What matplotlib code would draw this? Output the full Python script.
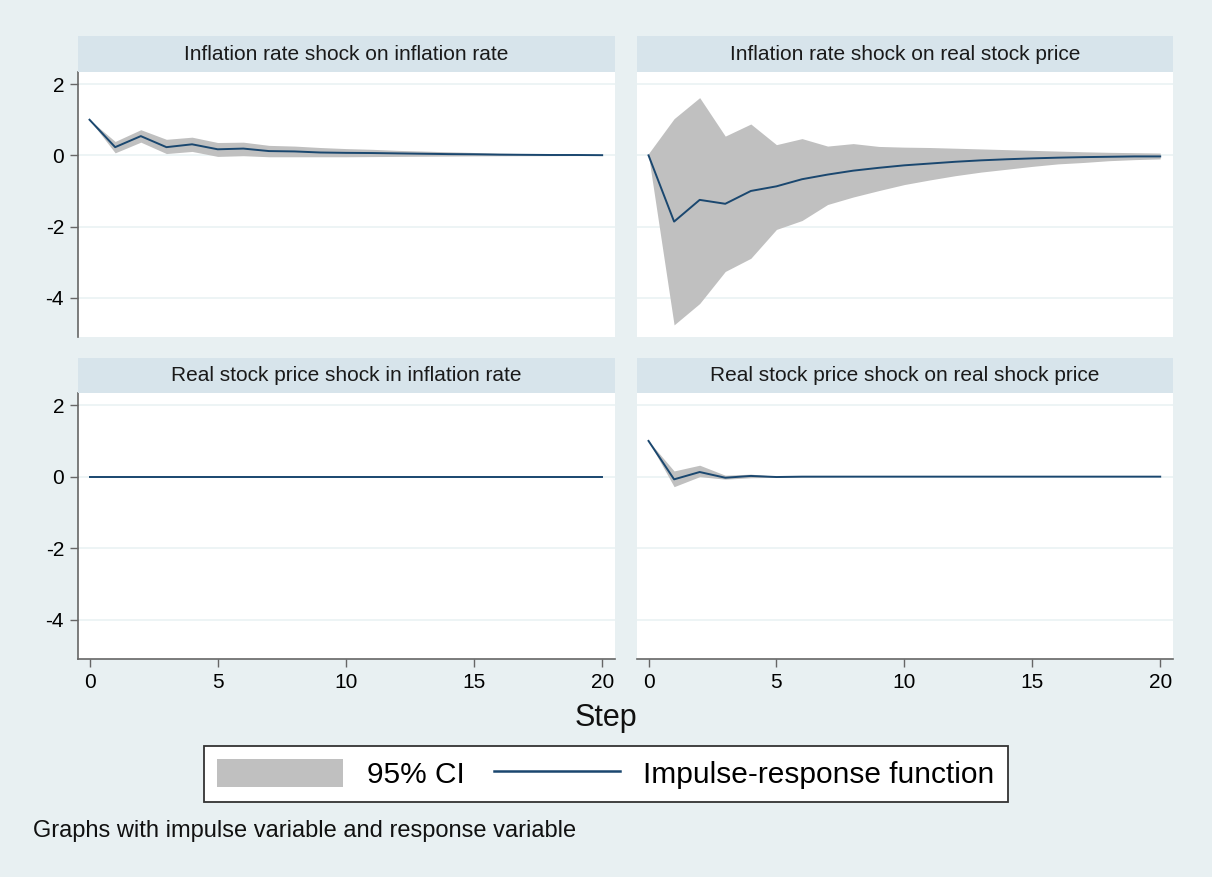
import matplotlib
matplotlib.use("Agg")
import matplotlib.pyplot as plt
from matplotlib.patches import Patch
from matplotlib.lines import Line2D

plt.rcParams['font.family'] = ['Liberation Sans', 'DejaVu Sans']
plt.rcParams['axes.unicode_minus'] = False

steps = list(range(21))

titles = ["Inflation rate shock on inflation rate",
          "Inflation rate shock on real stock price",
          "Real stock price shock in inflation rate",
          "Real stock price shock on real shock price"]

irf_inf_inf = [1.0, 0.23, 0.54, 0.23, 0.31, 0.17, 0.19, 0.12, 0.11, 0.08, 0.07,
               0.065, 0.055, 0.045, 0.035, 0.03, 0.02, 0.015, 0.01, 0.01, 0.005]
lo_inf_inf = [1.0, 0.07, 0.37, 0.05, 0.11, -0.03, -0.01, -0.04, -0.04, -0.04, -0.04,
              -0.035, -0.03, -0.025, -0.02, -0.015, -0.012, -0.01, -0.008, -0.006, -0.005]
hi_inf_inf = [1.0, 0.39, 0.72, 0.45, 0.51, 0.36, 0.37, 0.28, 0.26, 0.22, 0.19,
              0.17, 0.14, 0.12, 0.10, 0.08, 0.06, 0.05, 0.035, 0.03, 0.02]

irf_inf_stk = [0.0, -1.86, -1.25, -1.36, -1.0, -0.87, -0.67, -0.54, -0.43, -0.35, -0.28,
               -0.23, -0.18, -0.14, -0.11, -0.085, -0.065, -0.05, -0.04, -0.03, -0.03]
lo_inf_stk = [0.0, -4.76, -4.16, -3.26, -2.89, -2.08, -1.83, -1.38, -1.17, -0.99, -0.82,
              -0.69, -0.57, -0.47, -0.39, -0.31, -0.24, -0.20, -0.15, -0.12, -0.10]
hi_inf_stk = [0.05, 1.03, 1.62, 0.54, 0.88, 0.30, 0.47, 0.26, 0.33, 0.25, 0.23,
              0.22, 0.20, 0.18, 0.16, 0.14, 0.12, 0.10, 0.085, 0.075, 0.065]

irf_stk_inf = [0.0] * 21
lo_stk_inf = [0.0] * 21
hi_stk_inf = [0.0] * 21

irf_stk_stk = [1.0, -0.075, 0.13, -0.03, 0.02, -0.01, 0.0, 0.0, 0.0, 0.0, 0.0,
               0.0, 0.0, 0.0, 0.0, 0.0, 0.0, 0.0, 0.0, 0.0, 0.0]
lo_stk_stk = [1.0, -0.28, 0.0, -0.07, -0.03, -0.02, -0.01, -0.005, 0.0, 0.0, 0.0,
              0.0, 0.0, 0.0, 0.0, 0.0, 0.0, 0.0, 0.0, 0.0, 0.0]
hi_stk_stk = [1.0, 0.16, 0.32, 0.04, 0.07, 0.01, 0.01, 0.005, 0.0, 0.0, 0.0,
              0.0, 0.0, 0.0, 0.0, 0.0, 0.0, 0.0, 0.0, 0.0, 0.0]

yticks = [-4, -2, 0, 2]
xticks = [0, 5, 10, 15, 20]

panels = [(irf_inf_inf, lo_inf_inf, hi_inf_inf),
          (irf_inf_stk, lo_inf_stk, hi_inf_stk),
          (irf_stk_inf, lo_stk_inf, hi_stk_inf),
          (irf_stk_stk, lo_stk_stk, hi_stk_stk)]

W, H = 1212, 877
BG = '#E8F0F2'
BAND = '#D7E4EB'
LINE = '#1A476F'
CI = '#C0C0C0'
AXC = '#666666'

fig = plt.figure(figsize=(W / 100, H / 100), dpi=100, facecolor=BG)

def fx(px):
    return px / W

def fy(py):
    return 1 - py / H

cols = [(78, 615), (637, 1173)]
rows = [(36, 72, 337), (358, 393, 659)]

for i, (irf, lo, hi) in enumerate(panels):
    r, c = divmod(i, 2)
    x0, x1 = cols[c]
    tb, pt, pb = rows[r]
    ax = fig.add_axes([fx(x0), fy(pb), fx(x1 - x0), (pb - pt) / H])
    band = fig.add_axes([fx(x0), fy(pt), fx(x1 - x0), (pt - tb) / H])
    band.set_facecolor(BAND)
    band.set_xticks([]); band.set_yticks([])
    for s in band.spines.values():
        s.set_visible(False)
    band.text(0.5, 0.5, titles[i], ha='center', va='center', fontsize=15,
              color='#1a1a1a', transform=band.transAxes)

    ax.set_facecolor('white')
    ax.fill_between(steps, lo, hi, color=CI, linewidth=0, zorder=2)
    ax.plot(steps, irf, color=LINE, linewidth=1.4, zorder=3)
    ax.set_xlim(-0.45, 20.5)
    ax.set_ylim(-5.1, 2.34)
    ax.set_yticks(yticks)
    ax.set_xticks(xticks)
    ax.grid(axis='y', color='#EAF2F4', linewidth=1.2, zorder=1)
    ax.set_axisbelow(True)
    for s in ['top', 'right']:
        ax.spines[s].set_visible(False)
    ax.spines['left'].set_visible(c == 0)
    ax.spines['bottom'].set_visible(r == 1)
    for s in ['left', 'bottom']:
        ax.spines[s].set_color(AXC)
        ax.spines[s].set_linewidth(1.2)
    ax.tick_params(axis='y', left=(c == 0), labelleft=(c == 0), length=6,
                   color=AXC, width=1, labelsize=15, pad=4)
    ax.tick_params(axis='x', bottom=(r == 1), labelbottom=(r == 1), length=6,
                   color=AXC, width=1, labelsize=15, pad=4)

fig.text(0.5, fy(718), 'Step', ha='center', va='center', fontsize=22, color='#111111')

handles = [Patch(facecolor=CI, edgecolor='none', label='95% CI'),
           Line2D([0], [0], color=LINE, linewidth=1.8, label='Impulse-response function')]
leg = fig.legend(handles=handles, loc='center', bbox_to_anchor=(0.5, fy(774)), ncol=2,
                 fontsize=21.5, frameon=True, fancybox=False, framealpha=1,
                 handlelength=4.2, handleheight=1.05, columnspacing=1.0,
                 handletextpad=0.8, borderpad=0.45, borderaxespad=0)
frame = leg.get_frame()
frame.set_edgecolor('#333333')
frame.set_linewidth(1.3)
frame.set_facecolor('white')

fig.text(fx(33), fy(831), 'Graphs with impulse variable and response variable',
         ha='left', va='center', fontsize=17, color='#111111')

fig.savefig('out.png', dpi=100, facecolor=BG)
